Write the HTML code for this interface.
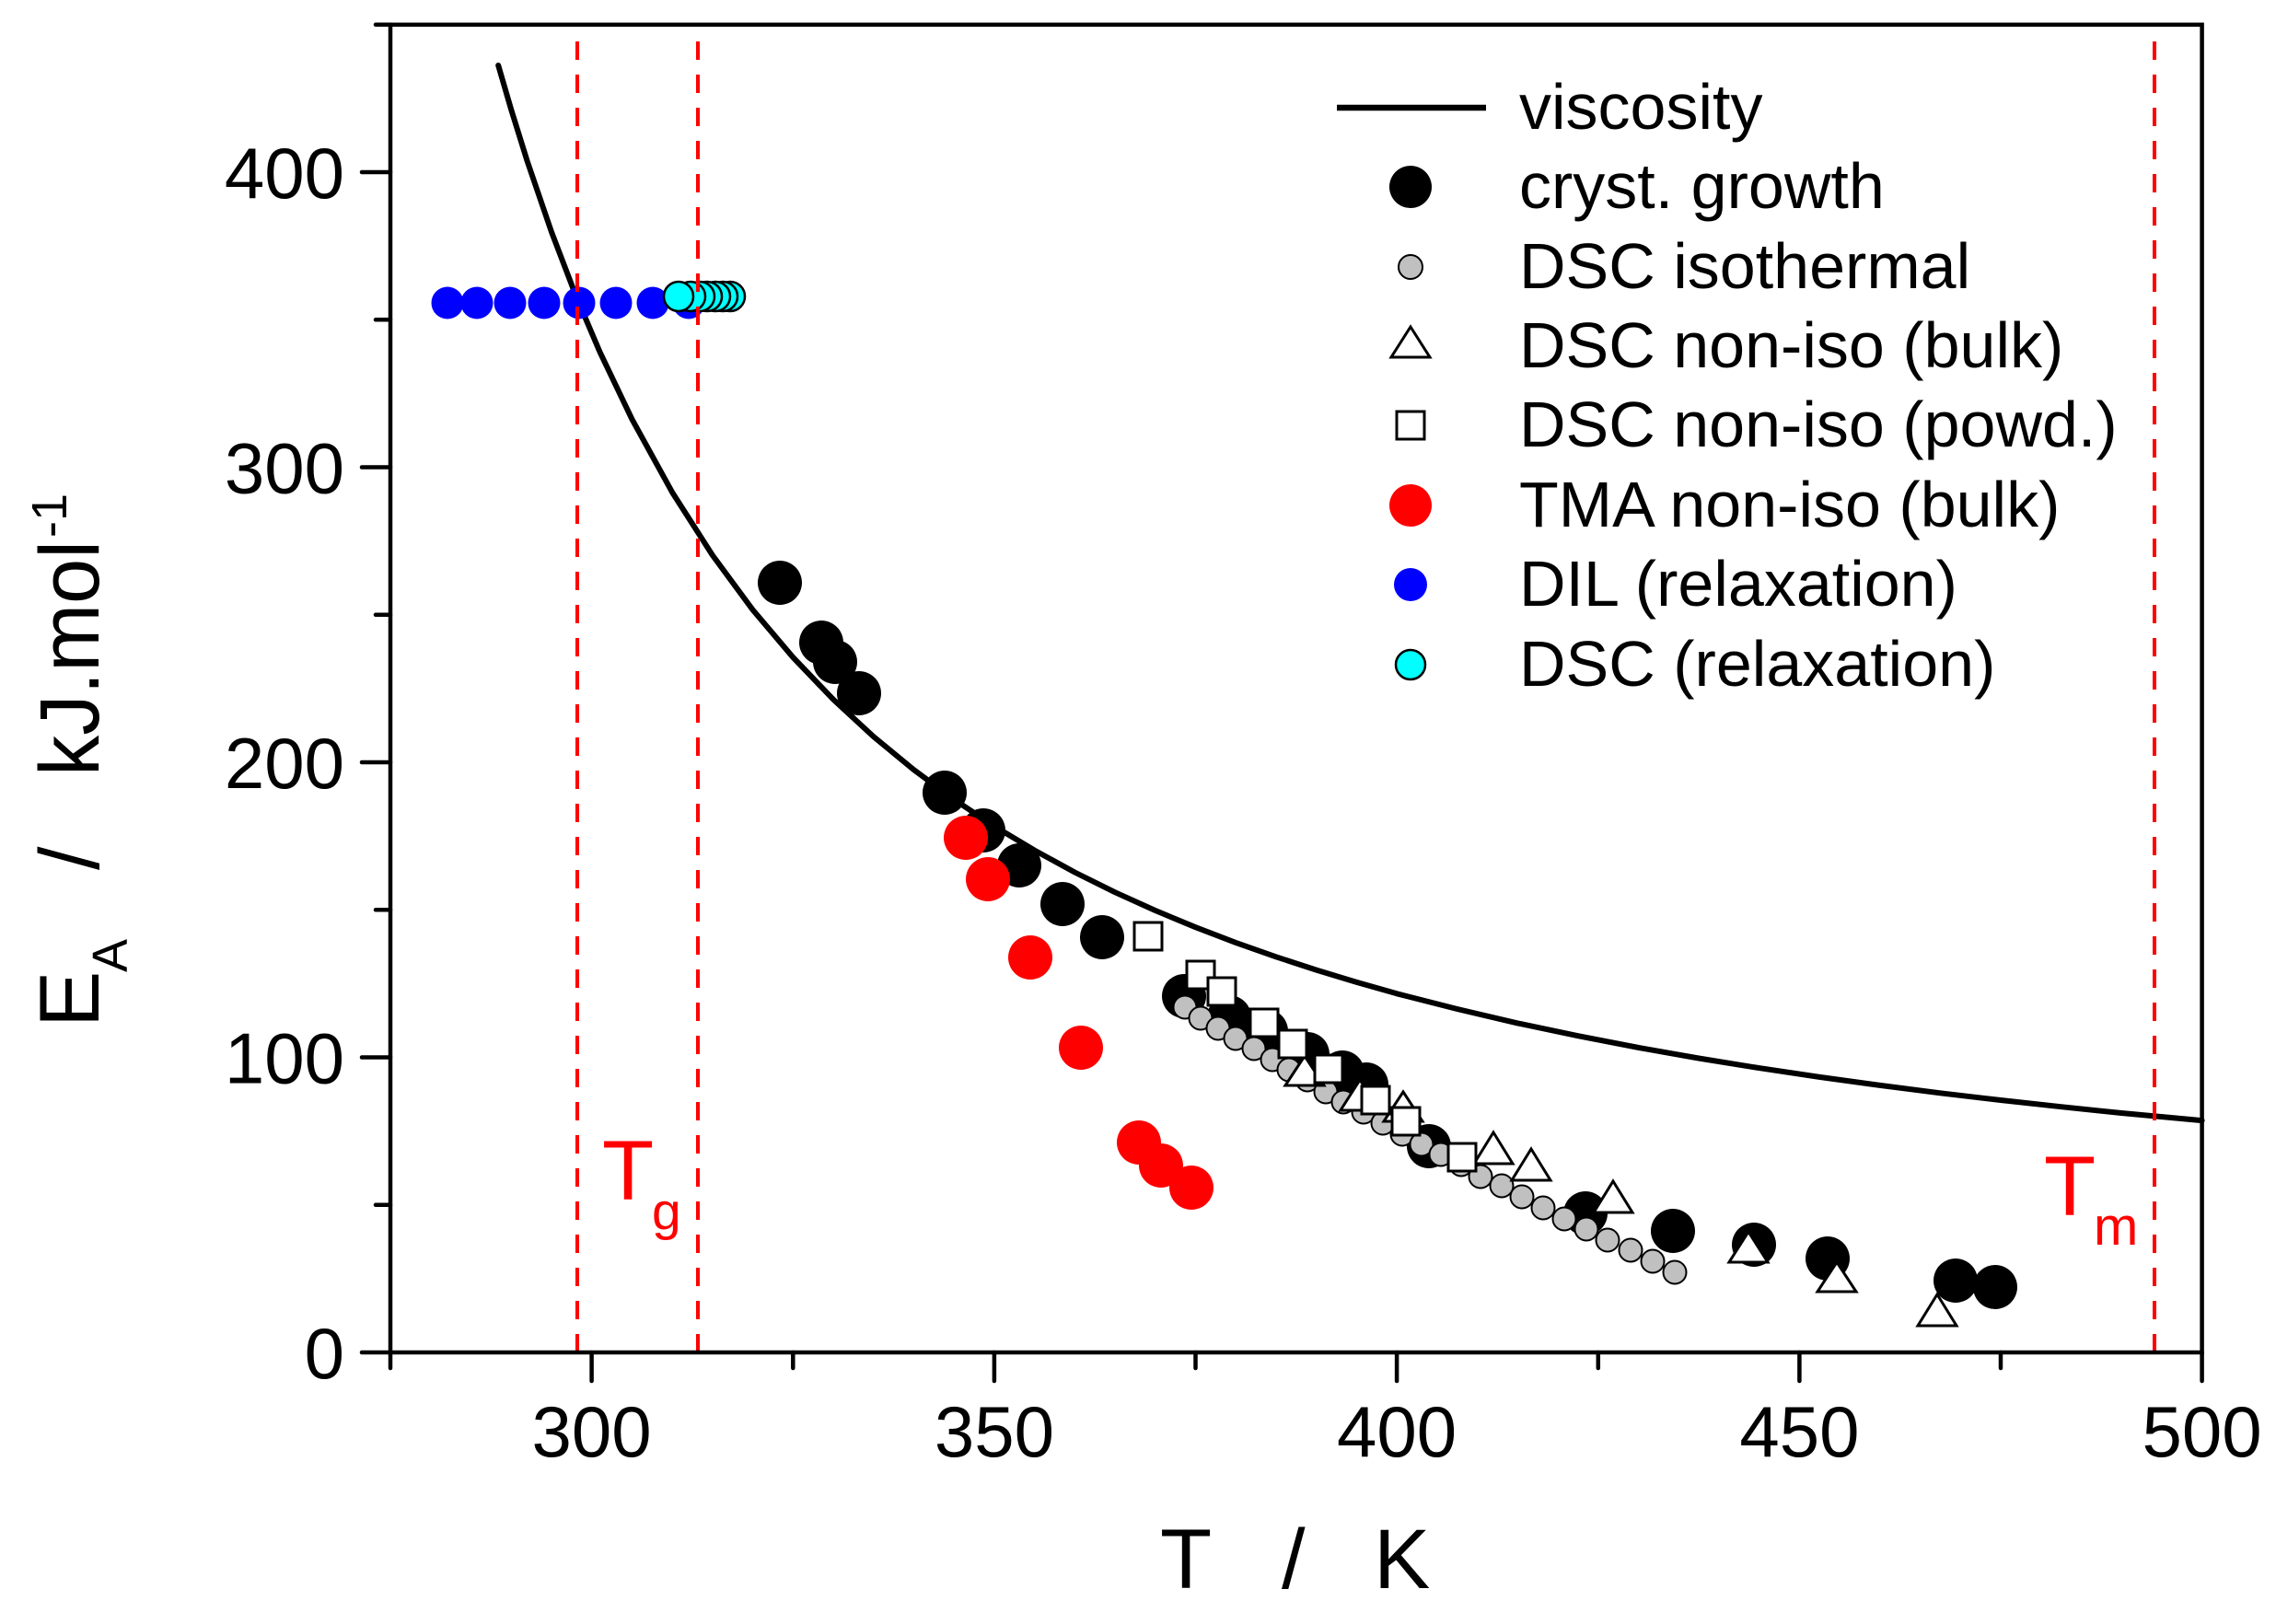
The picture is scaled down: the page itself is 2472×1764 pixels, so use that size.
<!DOCTYPE html>
<html><head><meta charset="utf-8"><style>
html,body{margin:0;padding:0;background:#fff;}
svg{display:block;}
text{font-family:"Liberation Sans",Arial,sans-serif;}
</style></head><body>
<svg width="2472" height="1764" viewBox="0 0 2472 1764" xmlns="http://www.w3.org/2000/svg">
<rect width="2472" height="1764" fill="#fff"/>
<!-- curve -->
<polyline fill="none" stroke="#000" stroke-width="6" stroke-linejoin="round" stroke-linecap="round" points="541.2,71 555.2,119 572.7,175.2 598.9,251.7 625.1,320.3 651.4,382.1 686.4,455.3 730.1,534.7 773.8,603 817.5,662.3 861.3,714 905,759.7 948.7,800.1 992.4,836.1 1036.2,868.4 1079.9,897.5 1123.6,923.6 1167.3,947.5 1211,969.2 1254.8,989 1298.5,1007.2 1342.2,1023.9 1385.9,1039.3 1429.7,1053.6 1473.4,1066.9 1517.1,1079.3 1582.7,1096 1648.3,1111.4 1713.9,1125.2 1779.5,1137.9 1845,1149.5 1910.6,1160.1 1976.2,1169.9 2041.8,1178.9 2107.4,1187.3 2173,1195 2238.6,1202.2 2304.2,1209 2391.6,1217.1"/>
<!-- cryst growth -->
<g fill="#000">
<circle cx="847" cy="633" r="24"/><circle cx="892" cy="698" r="24"/><circle cx="907" cy="719" r="24"/><circle cx="933" cy="753" r="24"/>
<circle cx="1026" cy="861" r="24"/><circle cx="1068" cy="902" r="24"/><circle cx="1107" cy="940" r="24"/><circle cx="1154" cy="982" r="24"/>
<circle cx="1197" cy="1018" r="24"/><circle cx="1286" cy="1082" r="24"/><circle cx="1335" cy="1105" r="24"/><circle cx="1375" cy="1120" r="24"/>
<circle cx="1420" cy="1145" r="24"/><circle cx="1458" cy="1165" r="24"/><circle cx="1484" cy="1178" r="24"/><circle cx="1552" cy="1245" r="24"/>
<circle cx="1722" cy="1318" r="24"/><circle cx="1817" cy="1337" r="24"/><circle cx="1905" cy="1352" r="24"/><circle cx="1985" cy="1367" r="24"/>
<circle cx="2124" cy="1391" r="24"/><circle cx="2167" cy="1398" r="24"/>
</g>
<!-- DSC isothermal -->
<g fill="#c0c0c0" stroke="#000" stroke-width="2">
<circle cx="1287" cy="1094" r="12.5"/><circle cx="1304" cy="1106" r="12.5"/><circle cx="1323" cy="1117" r="12.5"/><circle cx="1342" cy="1128" r="12.5"/>
<circle cx="1362" cy="1139" r="12.5"/><circle cx="1382" cy="1151" r="12.5"/><circle cx="1400" cy="1162" r="12.5"/><circle cx="1420" cy="1173" r="12.5"/>
<circle cx="1440" cy="1186" r="12.5"/><circle cx="1459" cy="1197" r="12.5"/><circle cx="1481" cy="1208" r="12.5"/><circle cx="1502" cy="1220" r="12.5"/>
<circle cx="1523" cy="1232" r="12.5"/><circle cx="1544" cy="1243" r="12.5"/><circle cx="1565" cy="1254" r="12.5"/><circle cx="1587" cy="1265" r="12.5"/>
<circle cx="1608" cy="1278" r="12.5"/><circle cx="1631" cy="1288" r="12.5"/><circle cx="1653" cy="1300" r="12.5"/><circle cx="1676" cy="1312" r="12.5"/>
<circle cx="1699" cy="1324" r="12.5"/><circle cx="1723" cy="1335" r="12.5"/><circle cx="1746" cy="1347" r="12.5"/><circle cx="1771" cy="1358" r="12.5"/>
<circle cx="1795" cy="1370" r="12.5"/><circle cx="1819" cy="1382" r="12.5"/>
</g>
<!-- DSC non-iso bulk triangles -->
<g fill="#fff" stroke="#000" stroke-width="3" stroke-linejoin="miter">
<polygon points="1417,1147 1438,1179 1396,1179"/>
<polygon points="1477,1173 1498,1206 1456,1206"/>
<polygon points="1524,1186 1545,1218 1503,1218"/>
<polygon points="1622,1230 1643,1264 1601,1264"/>
<polygon points="1663,1248 1684,1282 1642,1282"/>
<polygon points="1752,1283 1773,1317 1731,1317"/>
<polygon points="1899,1338 1920,1371 1878,1371"/>
<polygon points="1995,1371 2016,1403 1974,1403"/>
<polygon points="2104,1406 2125,1440 2083,1440"/>
</g>
<!-- DSC non-iso powd squares -->
<g fill="#fff" stroke="#000" stroke-width="3">
<rect x="1232" y="1002" width="30" height="30"/><rect x="1289" y="1044" width="30" height="30"/>
<rect x="1312" y="1062" width="30" height="30"/><rect x="1358" y="1096" width="30" height="30"/>
<rect x="1389" y="1119" width="30" height="30"/><rect x="1428" y="1146" width="30" height="30"/>
<rect x="1479" y="1180" width="30" height="30"/><rect x="1512" y="1203" width="30" height="30"/>
<rect x="1573" y="1242" width="30" height="30"/>
</g>
<!-- TMA red -->
<g fill="#ff0000">
<circle cx="1049" cy="910" r="24"/><circle cx="1073" cy="955" r="24"/><circle cx="1119" cy="1040" r="24"/><circle cx="1174" cy="1138" r="24"/>
<circle cx="1237" cy="1241" r="24"/><circle cx="1261" cy="1266" r="24"/><circle cx="1294" cy="1290" r="24"/>
</g>
<!-- DIL blue -->
<g fill="#0000ff">
<circle cx="486" cy="329" r="17.5"/><circle cx="518" cy="329" r="17.5"/><circle cx="554" cy="329" r="17.5"/><circle cx="591" cy="329" r="17.5"/>
<circle cx="629" cy="329" r="17.5"/><circle cx="669" cy="329" r="17.5"/><circle cx="709" cy="329" r="17.5"/><circle cx="748" cy="329" r="17.5"/>
</g>
<!-- DSC relaxation cyan -->
<g fill="#00ffff" stroke="#000" stroke-width="2.5">
<circle cx="793" cy="322" r="16"/><circle cx="785" cy="322" r="16"/><circle cx="777" cy="322" r="16"/><circle cx="768" cy="322" r="16"/>
<circle cx="760" cy="322" r="16"/><circle cx="750" cy="322" r="16"/><circle cx="737" cy="322" r="16"/>
</g>
<!-- dashed lines -->
<g stroke="#ff0000" stroke-width="4" stroke-dasharray="20,16">
<line x1="627" y1="1469" x2="627" y2="27"/>
<line x1="758" y1="1469" x2="758" y2="27"/>
<line x1="2340" y1="1469" x2="2340" y2="27"/>
</g>
<!-- frame and ticks -->
<g stroke="#000" stroke-width="4.5" fill="none" stroke-linecap="round">
<rect x="424" y="26.8" width="1967.6" height="1442.2"/>
<line x1="424" y1="1469" x2="424" y2="1486"/>
<line x1="642.6" y1="1469" x2="642.6" y2="1500"/>
<line x1="861.3" y1="1469" x2="861.3" y2="1486"/>
<line x1="1079.9" y1="1469" x2="1079.9" y2="1500"/>
<line x1="1298.5" y1="1469" x2="1298.5" y2="1486"/>
<line x1="1517.1" y1="1469" x2="1517.1" y2="1500"/>
<line x1="1735.8" y1="1469" x2="1735.8" y2="1486"/>
<line x1="1954.4" y1="1469" x2="1954.4" y2="1500"/>
<line x1="2173" y1="1469" x2="2173" y2="1486"/>
<line x1="2391.6" y1="1469" x2="2391.6" y2="1500"/>
<line x1="393" y1="1469" x2="424" y2="1469"/>
<line x1="408" y1="1308.8" x2="424" y2="1308.8"/>
<line x1="393" y1="1148.5" x2="424" y2="1148.5"/>
<line x1="408" y1="988.3" x2="424" y2="988.3"/>
<line x1="393" y1="828" x2="424" y2="828"/>
<line x1="408" y1="667.8" x2="424" y2="667.8"/>
<line x1="393" y1="507.5" x2="424" y2="507.5"/>
<line x1="408" y1="347.3" x2="424" y2="347.3"/>
<line x1="393" y1="187" x2="424" y2="187"/>
<line x1="408" y1="26.8" x2="424" y2="26.8"/>
</g>
<!-- tick labels -->
<g font-size="78" fill="#000" text-anchor="middle">
<text x="642.6" y="1582">300</text>
<text x="1079.9" y="1582">350</text>
<text x="1517.1" y="1582">400</text>
<text x="1954.4" y="1582">450</text>
<text x="2391.6" y="1582">500</text>
</g>
<g font-size="78" fill="#000" text-anchor="end">
<text x="374" y="1497">0</text>
<text x="374" y="1176.5">100</text>
<text x="374" y="856">200</text>
<text x="374" y="535.5">300</text>
<text x="374" y="215">400</text>
</g>
<!-- axis titles -->
<g font-size="92" fill="#000">
<text x="1260" y="1725">T</text>
<text x="1392" y="1725">/</text>
<text x="1492" y="1725">K</text>
</g>
<g fill="#000" transform="rotate(-90)">
<text x="-1116" y="107" font-size="92">E</text>
<text x="-1056" y="138" font-size="54">A</text>
<text x="-945" y="107" font-size="92">/</text>
<text x="-843" y="107" font-size="92" textLength="256" lengthAdjust="spacingAndGlyphs">kJ.mol</text>
<text x="-584" y="72" font-size="54">-1</text>
</g>
<!-- Tg / Tm -->
<g fill="#ff0000">
<text x="654" y="1303" font-size="92">T</text>
<text x="708" y="1335" font-size="57">g</text>
<text x="2220" y="1320" font-size="92">T</text>
<text x="2274" y="1352" font-size="58">m</text>
</g>
<!-- legend -->
<line x1="1452" y1="117" x2="1614" y2="117" stroke="#000" stroke-width="6.5"/>
<circle cx="1532" cy="203" r="23" fill="#000"/>
<circle cx="1532" cy="290" r="13" fill="#c0c0c0" stroke="#000" stroke-width="2"/>
<polygon points="1532,355 1553,388 1511,388" fill="#fff" stroke="#000" stroke-width="3"/>
<rect x="1517" y="447" width="30" height="30" fill="#fff" stroke="#000" stroke-width="3"/>
<circle cx="1532" cy="549" r="23" fill="#ff0000"/>
<circle cx="1532" cy="635" r="18" fill="#0000ff"/>
<circle cx="1532" cy="722" r="16" fill="#00ffff" stroke="#000" stroke-width="2.5"/>
<g font-size="70" fill="#000">
<text x="1650" y="140">viscosity</text>
<text x="1650" y="226">cryst. growth</text>
<text x="1650" y="313">DSC isothermal</text>
<text x="1650" y="399">DSC non-iso (bulk)</text>
<text x="1650" y="485">DSC non-iso (powd.)</text>
<text x="1650" y="572">TMA non-iso (bulk)</text>
<text x="1650" y="658">DIL (relaxation)</text>
<text x="1650" y="745">DSC (relaxation)</text>
</g>
</svg>
</body></html>
